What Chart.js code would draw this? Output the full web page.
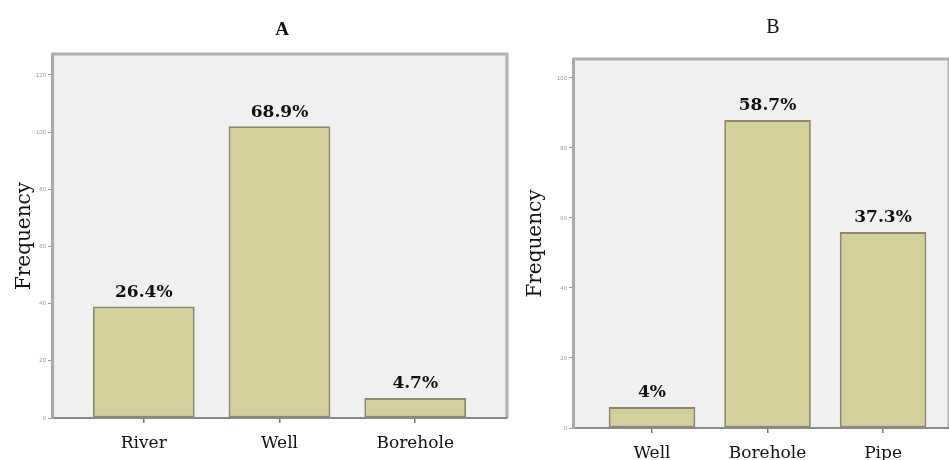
<!DOCTYPE html>
<html>
<head>
<meta charset="utf-8">
<script src="https://cdn.jsdelivr.net/npm/chart.js@4.4.1/dist/chart.umd.min.js"></script>
<style>
  html, body { margin: 0; padding: 0; background: #fff; }
  #wrap { position: relative; width: 949px; height: 460px; overflow: hidden; }
  .panel { position: absolute; top: 0; height: 460px; }
</style>
</head>
<body>
<div id="wrap">
  <div class="panel" style="left:0;width:515px"><canvas id="chart-a"></canvas></div>
  <div class="panel" style="left:515px;width:434px"><canvas id="chart-b"></canvas></div>
</div>
<script>
const catsA = ["River", "Well", "Borehole"];
const freqA = [39, 102, 7];
const pctA = ["26.4%", "68.9%", "4.7%"];

const catsB = ["Well", "Borehole", "Pipe"];
const freqB = [6, 88, 56];
const pctB = ["4%", "58.7%", "37.3%"];

const yTicksA = [0, 20, 40, 60, 80, 100, 120];
const yTicksB = [0, 20, 40, 60, 80, 100];

const SERIF = "'Liberation Serif', 'DejaVu Serif', serif";
const WIDE = "'DejaVu Serif', serif";

const panelBg = {
  id: "panelBg",
  beforeDraw(chart) {
    const { ctx, chartArea: a } = chart;
    ctx.save();
    ctx.fillStyle = "#fff";
    ctx.fillRect(0, 0, chart.width, chart.height);
    ctx.fillStyle = "#f0f0f0";
    ctx.fillRect(a.left, a.top, a.right - a.left, a.bottom - a.top);
    ctx.strokeStyle = "#b0b0b0";
    ctx.lineWidth = 3;
    ctx.beginPath();
    ctx.moveTo(a.left, a.top);
    ctx.lineTo(a.right, a.top);
    ctx.lineTo(a.right, a.bottom);
    ctx.stroke();
    ctx.restore();
  },
};

const barText = {
  id: "barText",
  afterDatasetsDraw(chart, args, opts) {
    const { ctx } = chart;
    const meta = chart.getDatasetMeta(0);
    ctx.save();
    ctx.font = "bold 17px " + WIDE;
    ctx.fillStyle = "#111";
    ctx.textAlign = "center";
    ctx.textBaseline = "middle";
    meta.data.forEach((bar, i) => {
      ctx.fillText(opts.labels[i], bar.x, bar.y - 14);
    });
    // panel title
    ctx.font = opts.titleFont;
    ctx.fillText(opts.title, opts.titleX, opts.titleY);
    ctx.restore();
  },
};

function makeChart(id, cfg) {
  const ctx = document.getElementById(id).getContext("2d");
  return new Chart(ctx, {
    type: "bar",
    data: {
      datasets: [{
        data: cfg.values.map((v, i) => ({ x: i, y: v })),
        backgroundColor: "#d4d09b",
        borderColor: "#8c8a6c",
        borderWidth: 2,
        borderSkipped: false,
        barPercentage: 0.75,
        categoryPercentage: 1,
      }],
    },
    options: {
      responsive: true,
      maintainAspectRatio: false,
      animation: false,
      layout: { padding: { top: cfg.top, right: cfg.right, left: 0, bottom: 0 } },
      plugins: {
        legend: { display: false },
        tooltip: { enabled: false },
        barText: {
          labels: cfg.pct,
          title: cfg.title,
          titleFont: cfg.titleFont,
          titleX: cfg.titleX,
          titleY: cfg.titleY,
        },
      },
      scales: {
        x: {
          type: "linear",
          offset: false,
          min: cfg.xMin,
          max: cfg.xMax,
          afterBuildTicks: s => { s.ticks = cfg.cats.map((c, i) => ({ value: i })); },
          afterFit: s => { s.height = cfg.xHeight; },
          ticks: {
            callback: v => cfg.cats[Math.round(v)],
            color: "#111",
            font: { family: WIDE, size: 17 },
            padding: cfg.xPad,
            maxRotation: 0,
          },
          grid: { offset: false, drawOnChartArea: false, drawTicks: true, tickLength: 5, color: "#777", lineWidth: 1.5 },
          border: { color: "#8a8a8a", width: 2 },
        },
        y: {
          min: 0,
          max: cfg.yMax,
          afterBuildTicks: s => { s.ticks = cfg.yTicks.map(v => ({ value: v })); },
          afterFit: s => { s.width = cfg.yWidth; },
          ticks: { color: "#9a9a9a", font: { size: 6 }, padding: 2 },
          grid: { drawOnChartArea: false, drawTicks: true, tickLength: 4, color: "#999" },
          border: { color: "#aaaaaa", width: 3 },
          title: {
            display: true,
            text: "Frequency",
            color: "#111",
            font: { family: WIDE, size: 20 },
            padding: { top: cfg.titlePad, bottom: 0 },
          },
        },
      },
    },
    plugins: [panelBg, barText],
  });
}

makeChart("chart-a", {
  cats: catsA, values: freqA, pct: pctA, yTicks: yTicksA,
  yMax: 127.3, xMin: -0.676, xMax: 2.676,
  top: 54, right: 8, yWidth: 52, xHeight: 42, xPad: 10, titlePad: 13,
  title: "A", titleFont: "bold 19px " + SERIF, titleX: 282, titleY: 30,
});

makeChart("chart-b", {
  cats: catsB, values: freqB, pct: pctB, yTicks: yTicksB,
  yMax: 105.4, xMin: -0.684, xMax: 2.571,
  top: 59, right: 0, yWidth: 58, xHeight: 32, xPad: 10, titlePad: 9,
  title: "B", titleFont: "20px " + SERIF, titleX: 258, titleY: 28,
});
</script>
</body>
</html>
